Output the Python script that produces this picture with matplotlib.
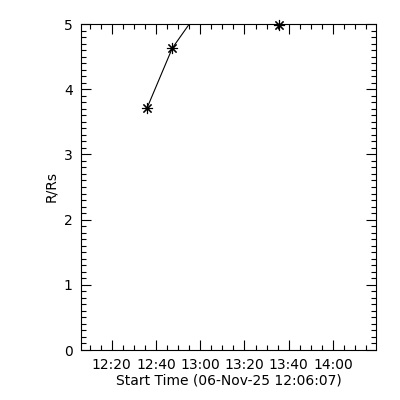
import datetime as dt
import numpy as np
import matplotlib
matplotlib.use("Agg")
import matplotlib.pyplot as plt
from matplotlib.ticker import FixedLocator, MultipleLocator

# start of the time axis
start = dt.datetime(2025, 11, 6, 12, 6, 7)

# measurements: seconds after start, height in solar radii
t_sec = [1790, 2476, 5369]
height = [3.71, 4.63, 4.98]
# fitted heights at the same times (the line, clipped at the top)
fit_height = [3.71, 4.63, 6.95]

# clock labels for the x axis
tick_labels = ["12:20", "12:40", "13:00", "13:20", "13:40", "14:00"]

x_max = 8000
y_max = 5


def clock_to_sec(label):
    h, m = map(int, label.split(":"))
    return (start.replace(hour=h, minute=m, second=0) - start).total_seconds()


major = [clock_to_sec(s) for s in tick_labels]
minor = np.arange(clock_to_sec("12:10"), x_max, 300)

fig = plt.figure(figsize=(4, 4), dpi=100)
ax = fig.add_axes([0.2025, 0.125, 0.7375, 0.815])

ax.plot(t_sec, fit_height, color="black", lw=0.8)
ax.plot(t_sec, height, linestyle="none", marker=(8, 2, 0), markersize=8,
        markeredgewidth=0.8, color="black", clip_on=False)

ax.set_xlim(0, x_max)
ax.set_ylim(0, y_max)

ax.xaxis.set_major_locator(FixedLocator(major))
ax.xaxis.set_minor_locator(FixedLocator(minor))
ax.set_xticklabels(tick_labels)
ax.yaxis.set_major_locator(MultipleLocator(1))
ax.yaxis.set_minor_locator(MultipleLocator(0.1))

ax.tick_params(which="both", direction="in", top=True, right=True,
               labelsize=10, width=0.8, pad=6)
ax.tick_params(which="major", length=7)
ax.tick_params(which="minor", length=3.5)
for s in ax.spines.values():
    s.set_linewidth(0.8)

ax.set_xlabel("Start Time (06-Nov-25 12:06:07)", fontsize=10, labelpad=1)
ax.set_ylabel("R/Rs", fontsize=10, labelpad=4)

fig.savefig("out.png", dpi=100)
